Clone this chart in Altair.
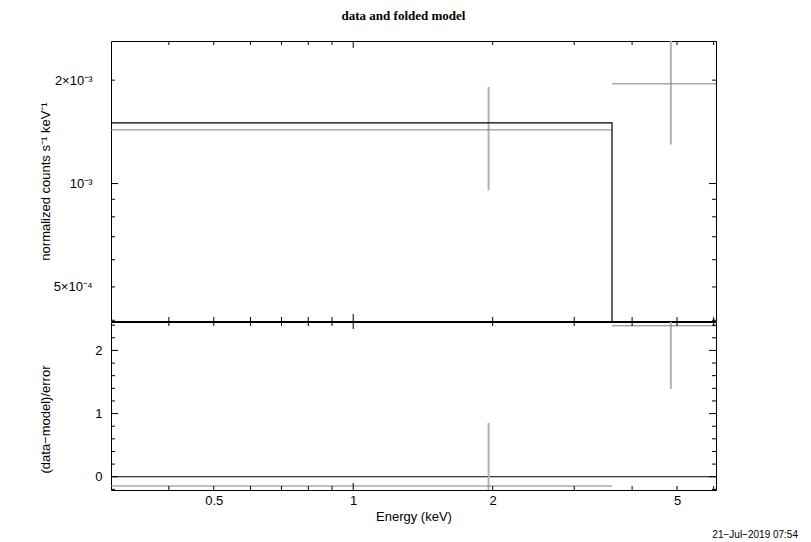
import altair as alt
import pandas as pd

# ---------------- data ----------------
bin_lo = [0.30, 3.62]
bin_hi = [3.62, 6.08]
energy = [1.96, 4.85]
rate = [1.433e-3, 1.951e-3]
rate_err = [0.478e-3, 0.652e-3]
model = [1.502e-3, 3.93e-4]
resid = [-0.147, 2.39]
resid_err = [1.0, 1.0]

x_domain = [0.30, 6.07]
y_domain = [3.98e-4, 2.60e-3]
r_domain = [-0.21, 2.45]

x_label_values = [0.5, 1, 2, 5]
x_major_ticks = [1]
x_minor_ticks = [0.4, 0.5, 0.6, 0.7, 0.8, 0.9, 2, 3, 4, 5, 6]
y_label_values = [5e-4, 1e-3, 2e-3]
y_label_text = ["5×10⁻⁴", "10⁻³", "2×10⁻³"]
y_major_ticks = [1e-3]
y_minor_ticks = [4e-4, 5e-4, 6e-4, 7e-4, 8e-4, 9e-4, 2e-3]
r_label_values = [0, 1, 2]
r_major_ticks = [0, 1, 2]
r_minor_ticks = [-0.2, 0.2, 0.4, 0.6, 0.8, 1.2, 1.4, 1.6, 1.8, 2.2, 2.4]

title_text = "data and folded model"
y_title_top = "normalized counts s⁻¹ keV⁻¹"
y_title_bottom = "(data−model)/error"
x_title = "Energy (keV)"
stamp = "21−Jul−2019 07:54"

# ---------------- layout constants ----------------
W = 605
H1 = 280
H2 = 168
MAJ = 7
MIN = 4
FONT = "Liberation Sans"
DATA_V = "#b3b3b3"
DATA_H = "#808080"

bins = pd.DataFrame(dict(lo=bin_lo, hi=bin_hi, e=energy, rate=rate, err=rate_err,
                         model=model, resid=resid, rerr=resid_err))
bins["rate_lo"] = bins["rate"] - bins["err"]
bins["rate_hi"] = bins["rate"] + bins["err"]
bins["r_lo"] = bins["resid"] - bins["rerr"]
bins["r_hi"] = bins["resid"] + bins["rerr"]
step = pd.DataFrame({"x": bin_lo + [bin_hi[-1]], "y": model + [model[-1]]})

xs = alt.Scale(type="log", domain=x_domain, nice=False)
ys = alt.Scale(type="log", domain=y_domain, nice=False)
rs = alt.Scale(domain=r_domain, nice=False, zero=False)

# label expression for the top y axis
expr = f"'{y_label_text[-1]}'"
for v, t in reversed(list(zip(y_label_values[:-1], y_label_text[:-1]))):
    expr = f"datum.value < {v * 1.2} ? '{t}' : " + expr

y_axis_top = alt.Axis(values=y_label_values, labelExpr=expr, ticks=False, tickSize=0,
                      domain=False, grid=False, labelFont=FONT, labelFontSize=13,
                      labelColor="black", labelPadding=19, title=y_title_top,
                      titleFont=FONT, titleFontSize=13, titleFontWeight="normal",
                      titleColor="black", titleX=-66, titleY=H1 / 2,
                      titleBaseline="middle", titleAngle=270, titleAlign="center")
r_axis = alt.Axis(values=r_label_values, format="d", ticks=False, tickSize=0,
                  domain=False, grid=False, labelFont=FONT, labelFontSize=13,
                  labelColor="black", labelPadding=9, title=y_title_bottom,
                  titleFont=FONT, titleFontSize=13, titleFontWeight="normal",
                  titleColor="black", titleX=-66, titleY=97,
                  titleBaseline="middle", titleAngle=270, titleAlign="center")
x_axis_bottom = alt.Axis(values=x_label_values, format="~g", ticks=False, tickSize=0,
                         domain=False, grid=False, labelFont=FONT, labelFontSize=13,
                         labelColor="black", labelPadding=4, labelFlush=False,
                         labelOverlap=False, title=x_title, titleFont=FONT,
                         titleFontSize=13, titleFontWeight="normal",
                         titleColor="black", titlePadding=3)


def x_ticks(vals, length, height, axis):
    df = pd.DataFrame({"v": vals})
    base = alt.Chart(df).mark_rule(color="black", strokeWidth=1)
    xe = alt.X("v:Q", scale=xs, axis=axis)
    return [
        base.encode(x=xe, y=alt.value(height - length), y2=alt.value(height)),
        base.encode(x=xe, y=alt.value(0), y2=alt.value(length)),
    ]


def y_ticks(vals, length, scale, axis):
    df = pd.DataFrame({"v": vals})
    base = alt.Chart(df).mark_rule(color="black", strokeWidth=1)
    ye = alt.Y("v:Q", scale=scale, axis=axis)
    return [
        base.encode(y=ye, x=alt.value(0), x2=alt.value(length)),
        base.encode(y=ye, x=alt.value(W - length), x2=alt.value(W)),
    ]


# ---------------- top panel ----------------
xt = alt.X("x:Q", scale=xs, axis=None)
model_line = alt.Chart(step).mark_line(interpolate="step-after", color="black",
                                       strokeWidth=1.2, clip=True).encode(
    x=xt, y=alt.Y("y:Q", scale=ys, axis=y_axis_top))
err_v = alt.Chart(bins).mark_rule(color=DATA_V, strokeWidth=2, clip=True).encode(
    x=alt.X("e:Q", scale=xs, axis=None),
    y=alt.Y("rate_lo:Q", scale=ys, axis=y_axis_top), y2="rate_hi:Q")
data_h = alt.Chart(bins).mark_rule(color=DATA_H, strokeWidth=1, clip=True).encode(
    x=alt.X("lo:Q", scale=xs, axis=None), x2="hi:Q",
    y=alt.Y("rate:Q", scale=ys, axis=y_axis_top))

top_layers = [err_v, data_h, model_line]
top_layers += x_ticks(x_major_ticks, MAJ, H1, None) + x_ticks(x_minor_ticks, MIN, H1, None)
top_layers += y_ticks(y_major_ticks, MAJ, ys, y_axis_top) + y_ticks(y_minor_ticks, MIN, ys, y_axis_top)

top = alt.layer(*top_layers).properties(
    width=W, height=H1,
    title=alt.TitleParams(text=title_text, font="Liberation Serif", fontSize=13,
                          fontWeight="bold", color="black", anchor="middle",
                          frame="group", dx=-10, offset=8, baseline="alphabetic"))

# ---------------- bottom panel ----------------
zero = alt.Chart(pd.DataFrame({"z": [0]})).mark_rule(color="black", strokeWidth=1).encode(
    y=alt.Y("z:Q", scale=rs, axis=r_axis))
res_v = alt.Chart(bins).mark_rule(color=DATA_V, strokeWidth=2, clip=True).encode(
    x=alt.X("e:Q", scale=xs, axis=x_axis_bottom),
    y=alt.Y("r_lo:Q", scale=rs, axis=r_axis), y2="r_hi:Q")
res_h = alt.Chart(bins).mark_rule(color=DATA_H, strokeWidth=1, clip=True).encode(
    x=alt.X("lo:Q", scale=xs, axis=x_axis_bottom), x2="hi:Q",
    y=alt.Y("resid:Q", scale=rs, axis=r_axis))
stamp_text = alt.Chart(pd.DataFrame({"t": [stamp]})).mark_text(
    align="right", baseline="alphabetic", font=FONT, fontSize=10, color="black").encode(
    x=alt.value(687), y=alt.value(216), text="t:N")

bot_layers = [zero, res_v, res_h]
bot_layers += x_ticks(x_major_ticks, MAJ, H2, x_axis_bottom) + x_ticks(x_minor_ticks, MIN, H2, x_axis_bottom)
bot_layers += y_ticks(r_major_ticks, MAJ, rs, r_axis) + y_ticks(r_minor_ticks, MIN, rs, r_axis)
bot_layers += [stamp_text]

bottom = alt.layer(*bot_layers).properties(width=W, height=H2)

chart = alt.vconcat(top, bottom, spacing=1, bounds="flush").properties(
    padding={"left": 30, "top": 1, "right": 0, "bottom": 0},
    background="white",
).configure_view(stroke="black", strokeWidth=1)

chart.save("out.html", embed_options={"renderer": "svg", "actions": False})
